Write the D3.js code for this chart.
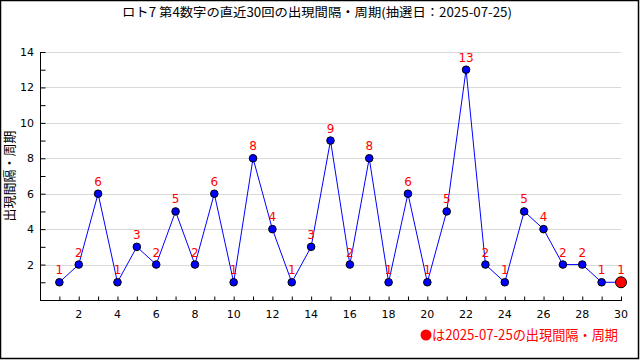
<!DOCTYPE html>
<html><head><meta charset="utf-8">
<script src="https://cdn.jsdelivr.net/npm/d3@7"></script>
<style>html,body{margin:0;padding:0;background:#fff}svg{display:block}</style>
</head><body>
<svg id="c" width="640" height="360"></svg>
<script>
const titleText = "ロト7 第4数字の直近30回の出現間隔・周期(抽選日：2025-07-25)";
const yLabel = "出現間隔・周期";
const legendText = "は2025-07-25の出現間隔・周期";
const draws = d3.range(1, 31);
const intervals = [1,2,6,1,3,2,5,2,6,1,8,4,1,3,9,2,8,1,6,1,5,13,2,1,5,4,2,2,1,1];
const xTicks = [2,4,6,8,10,12,14,16,18,20,22,24,26,28,30];
const yTicks = [2,4,6,8,10,12,14];

const svg = d3.select("#c");
const font = "'Noto Sans CJK JP', 'DejaVu Sans', sans-serif";
const L = 40, R = 621, T = 52, B = 300;
const x = d3.scaleLinear().domain([0, 30]).range([L, R]);
const y = d3.scaleLinear().domain([0, 14]).range([B, T]);

svg.append("rect").attr("x",0.5).attr("y",0.5).attr("width",638).attr("height",358)
  .attr("fill","#fff").attr("stroke","#000").attr("stroke-width",1.5);

svg.append("text").attr("x",317).attr("y",17).attr("text-anchor","middle")
  .attr("font-family",font).attr("font-size",12.5).attr("fill","#000")
  .attr("textLength",390).attr("lengthAdjust","spacingAndGlyphs").text(titleText);

// grid
svg.append("g").selectAll("line").data(yTicks).join("line")
  .attr("x1",L).attr("x2",R).attr("y1",d=>Math.round(y(d))+0.5).attr("y2",d=>Math.round(y(d))+0.5)
  .attr("stroke","#d9d9d9").attr("stroke-width",1);

// axes
const yAxis = d3.axisRight(y).tickValues(d3.range(1,15)).tickSize(5).tickFormat("");
const gy = svg.append("g").attr("transform",`translate(${L+0.5},0)`).call(yAxis);
gy.select(".domain").remove();
const xAxis = d3.axisTop(x).tickValues(d3.range(1,31)).tickSize(4).tickFormat("");
const gx = svg.append("g").attr("transform",`translate(0,${B+0.5})`).call(xAxis);
gx.select(".domain").remove();
svg.append("line").attr("x1",L+0.5).attr("x2",L+0.5).attr("y1",T).attr("y2",B+1).attr("stroke","#000");
svg.append("line").attr("x1",L).attr("x2",R+1).attr("y1",B+0.5).attr("y2",B+0.5).attr("stroke","#000");

svg.append("g").selectAll("text").data(yTicks).join("text")
  .attr("x",L-6).attr("y",d=>y(d)+4).attr("text-anchor","end")
  .attr("font-family","'DejaVu Sans', sans-serif").attr("font-size",11).text(d=>d);
svg.append("g").selectAll("text").data(xTicks).join("text")
  .attr("x",d=>x(d)).attr("y",B+18).attr("text-anchor","middle")
  .attr("font-family","'DejaVu Sans', sans-serif").attr("font-size",11).text(d=>d);

svg.append("text").attr("transform",`translate(14,${(T+B)/2}) rotate(-90)`)
  .attr("text-anchor","middle").attr("font-family",font).attr("font-size",13).text(yLabel);

const data = draws.map((d,i)=>({d, v:intervals[i]}));
svg.append("path").datum(data)
  .attr("d", d3.line().x(p=>x(p.d)).y(p=>y(p.v)))
  .attr("fill","none").attr("stroke","#0000ff").attr("stroke-width",1);

svg.append("g").selectAll("circle").data(data).join("circle")
  .attr("cx",p=>x(p.d)).attr("cy",p=>y(p.v))
  .attr("r",(p,i)=>i===data.length-1?5.5:3.8)
  .attr("fill",(p,i)=>i===data.length-1?"#ff0000":"#0000ff")
  .attr("stroke","#000").attr("stroke-width",1);

svg.append("g").selectAll("text").data(data).join("text")
  .attr("x",p=>x(p.d)).attr("y",p=>y(p.v)-8).attr("text-anchor","middle")
  .attr("font-family","'DejaVu Sans', sans-serif").attr("font-size",12).attr("fill","#ff0000")
  .text(p=>p.v);

// legend
svg.append("circle").attr("cx",426).attr("cy",335).attr("r",5.5).attr("fill","#ff0000");
svg.append("text").attr("x",432).attr("y",340).attr("font-family",font).attr("font-size",14)
  .attr("textLength",186).attr("lengthAdjust","spacingAndGlyphs")
  .attr("fill","#ff0000").text(legendText);
</script>
</body></html>
